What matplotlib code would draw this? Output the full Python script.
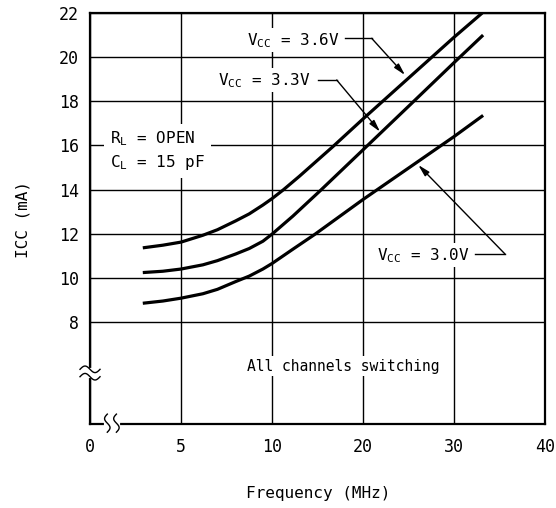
import matplotlib.pyplot as plt
import numpy as np

plt.rcParams['font.family'] = ['DejaVu Sans Mono']
plt.rcParams['mathtext.fontset'] = 'custom'
plt.rcParams['mathtext.rm'] = 'DejaVu Sans Mono'

# ICC vs frequency
freq_36 = [2.9, 4, 5, 6.2, 7, 8, 8.75, 9.5, 10, 11.25, 13, 16.7, 20, 25, 30, 33.1]
icc_36 = [11.36, 11.48, 11.62, 11.93, 12.18, 12.58, 12.9, 13.3, 13.59, 13.99, 14.6, 15.95,
          17.2, 19.05, 20.9, 22.0]

freq_33 = [2.9, 4, 5, 6.2, 7, 8, 8.75, 9.5, 10, 12.3, 15.3, 20, 25.2, 30, 33.2]
icc_33 = [10.24, 10.3, 10.4, 10.59, 10.78, 11.08, 11.33, 11.66, 11.98, 12.8, 13.95, 15.8,
          17.85, 19.75, 21.0]

freq_30 = [2.9, 4, 5, 6.2, 7, 8, 8.75, 9.5, 10, 12.3, 14.7, 20, 25.2, 30, 33.2]
icc_30 = [8.85, 8.95, 9.08, 9.28, 9.48, 9.83, 10.08, 10.4, 10.65, 11.3, 11.97, 13.55,
          15.03, 16.4, 17.36]

xticks = [0, 5, 10, 20, 30, 40]
yticks = [8, 10, 12, 14, 16, 18, 20, 22]


# x axis: 0-10 MHz uses double the spacing of 10-40 MHz
def fwd(f):
    f = np.asarray(f, dtype=float)
    return np.where(f <= 10, f / 5, 2 + (f - 10) / 10)


def inv(p):
    p = np.asarray(p, dtype=float)
    return np.where(p <= 2, p * 5, 10 + (p - 2) * 10)


fig = plt.figure(figsize=(5.56, 5.08), dpi=100)
ax = fig.add_axes([0.1619, 0.1654, 0.8183, 0.809])
ax.set_xscale('function', functions=(fwd, inv))
ax.set_xlim(0, 40)
ax.set_ylim(3.38, 22)
ax.set_xticks(xticks)
ax.set_xticklabels([str(t) for t in xticks])
ax.set_yticks(yticks)
ax.tick_params(axis='both', length=0, labelsize=12)
ax.tick_params(axis='x', pad=10)
ax.tick_params(axis='y', pad=8)
ax.grid(True, color='black', lw=1.0)
ax.set_axisbelow(True)
for s in ax.spines.values():
    s.set_linewidth(1.6)

for f, i in [(freq_36, icc_36), (freq_33, icc_33), (freq_30, icc_30)]:
    ax.plot(f, i, color='black', lw=2.3, solid_capstyle='butt',
            solid_joinstyle='round', zorder=4)

box = dict(fc='white', ec='none', pad=2)

# curve labels with bent leader lines
labels = [
    (r'V$_{\rm CC}$ = 3.6V', 0.3444, 0.922, 0.5604, 0.6191, 0.9384, 0.6923, 0.8491),
    (r'V$_{\rm CC}$ = 3.3V', 0.282, 0.8248, 0.5011, 0.5422, 0.837, 0.6374, 0.7112),
    (r'V$_{\rm CC}$ = 3.0V', 0.6301, 0.399, 0.8462, 0.9121, 0.4136, 0.7215, 0.6302),
]
for txt, tx, ty, x1, x2, ly, ax_, ay in labels:
    ax.text(tx, ty, txt, transform=ax.transAxes, fontsize=11.5, va='baseline',
            bbox=box, zorder=5)
    ax.plot([x1, x2], [ly, ly], transform=ax.transAxes, color='black', lw=1, zorder=5)
    ax.annotate('', xy=(ax_, ay), xycoords='axes fraction', xytext=(x2, ly),
                textcoords='axes fraction',
                arrowprops=dict(arrowstyle='-|>,head_length=0.7,head_width=0.18',
                                color='black', lw=1, shrinkA=0, shrinkB=0),
                zorder=5)

ax.text(0.044, 0.625, r'R$_{\rm L}$ = OPEN' + '\n' + r'C$_{\rm L}$ = 15 pF',
        transform=ax.transAxes, fontsize=11.5, va='baseline', linespacing=1.4,
        bbox=dict(fc='white', ec='none', pad=4), zorder=5)
ax.text(0.345, 0.141, 'All channels switching', transform=ax.transAxes,
        fontsize=10.5, va='center', bbox=box, zorder=5)

# axis break marks
t = np.linspace(0, 1, 30)
ax.plot([0, 0], [0.117, 0.131], transform=ax.transAxes, color='white', lw=3,
        clip_on=False, zorder=6)
for dy in [-0.009, 0.009]:
    ax.plot(-0.022 + 0.044 * t, 0.124 + dy + 0.008 * np.sin(2 * np.pi * t),
            transform=ax.transAxes, color='black', lw=1, clip_on=False, zorder=7)
ax.plot([0.035, 0.061], [0, 0], transform=ax.transAxes, color='white', lw=3,
        clip_on=False, zorder=6)
for dx in [0.038, 0.058]:
    ax.plot(dx + 0.006 * np.sin(2 * np.pi * t), -0.02 + 0.044 * t,
            transform=ax.transAxes, color='black', lw=1, clip_on=False, zorder=7)

fig.text(0.0414, 0.567, 'ICC (mA)', rotation=90, fontsize=11.5, ha='center', va='center')
fig.text(0.572, 0.0295, 'Frequency (MHz)', fontsize=11.5, ha='center', va='center')

fig.savefig('out.png', dpi=100)
